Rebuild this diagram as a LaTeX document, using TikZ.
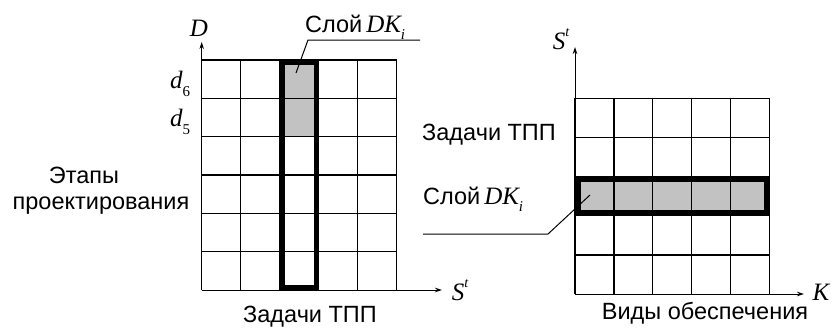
\documentclass[tikz,border=0pt]{standalone}
\usepackage{fontspec}
\setmainfont{Liberation Sans}
\newfontfamily\tms{Liberation Serif}
\usetikzlibrary{arrows.meta}
\newcommand{\msub}[1]{\raisebox{-0.3em}{\fontsize{15}{15}\selectfont #1}}
\newcommand{\msup}[1]{\raisebox{0.5em}{\fontsize{14}{14}\selectfont #1}}
\begin{document}
\begin{tikzpicture}[x=1pt,y=-1pt,
  grd/.style={line width=1.3pt},
  thk/.style={line width=5pt},
  shd/.style={fill=black!24},
  ax/.style={line width=1pt,-{Stealth[length=7pt,width=4.5pt]}},
  lbl/.style={font=\fontsize{23.5}{26}\selectfont, inner sep=0pt},
  mth/.style={font=\fontsize{25}{28}\selectfont\tms\itshape, inner sep=0pt},
  lead/.style={line width=1pt}
]
\useasboundingbox (0,0) rectangle (840,327);
% ---------- left grid ----------
\fill[shd] (279.7,60) rectangle (318.7,136.7);
\foreach \i in {0,...,5} \draw[grd] ({201.7+39*\i},60) -- ({201.7+39*\i},290);
\foreach \j in {0,...,5} \draw[grd] (201.7,{60+38.33*\j}) -- (396.7,{60+38.33*\j});
\draw[thk] (282.2,62.5) rectangle (316.2,287.5);
\coordinate (lo) at (201.7,290);
\coordinate (ly) at (201.7,42);
\coordinate (lx) at (442,290);
\draw[ax] (lo) -- (ly);
\draw[ax] (lo) -- (lx);
\node[mth] (D) at (199,28) {D};
\node[mth] (St1) at (460,290) {S\msup{t}};
\node[mth] (d6) at (180,84) {d\msub{\normalfont\tms 6}};
\node[mth] (d5) at (180,122) {d\msub{\normalfont\tms 5}};
\node[lbl,anchor=base west] (sl1) at (305,32) {Слой\,{\tms\itshape\fontsize{25}{28}\selectfont DK\msub{i}}};
\coordinate (u1a) at (308,40);
\coordinate (u1b) at (420,40);
\coordinate (u1c) at (296,73);
\draw[lead] (u1b) -- (u1a) -- (u1c);
\node[lbl] (et) at (84,175) {Этапы};
\node[lbl] (pr) at (101,206) {проектирования};
\node[lbl] (zt1) at (310,317) {Задачи ТПП};
% ---------- right grid ----------
\fill[shd] (575,176.5) rectangle (769.3,215.6);
\foreach \i in {0,...,5} \draw[grd] ({575+38.86*\i},98.3) -- ({575+38.86*\i},294);
\foreach \j in {0,...,4} \draw[grd] (575,{98.3+39.14*\j}) -- (769.3,{98.3+39.14*\j});
\draw[thk,line width=5.5pt] (577.75,179.25) rectangle (766.55,212.85);
\coordinate (ro) at (575,294);
\coordinate (ry) at (575,47);
\coordinate (rx) at (804,294);
\draw[ax] (ro) -- (ry);
\draw[ax] (ro) -- (rx);
\node[mth] (St2) at (561,39) {S\msup{t}};
\node[mth] (K) at (821,292) {K};
\node[lbl] (vo) at (705,313) {Виды обеспечения};
\node[lbl] (zt2) at (489,135) {Задачи ТПП};
\node[lbl,anchor=base west] (sl2) at (423,204) {Слой\,{\tms\itshape\fontsize{25}{28}\selectfont DK\msub{i}}};
\coordinate (u2a) at (423,234);
\coordinate (u2b) at (548,234);
\coordinate (u2c) at (590,195);
\draw[lead] (u2a) -- (u2b) -- (u2c);
\end{tikzpicture}
\end{document}
